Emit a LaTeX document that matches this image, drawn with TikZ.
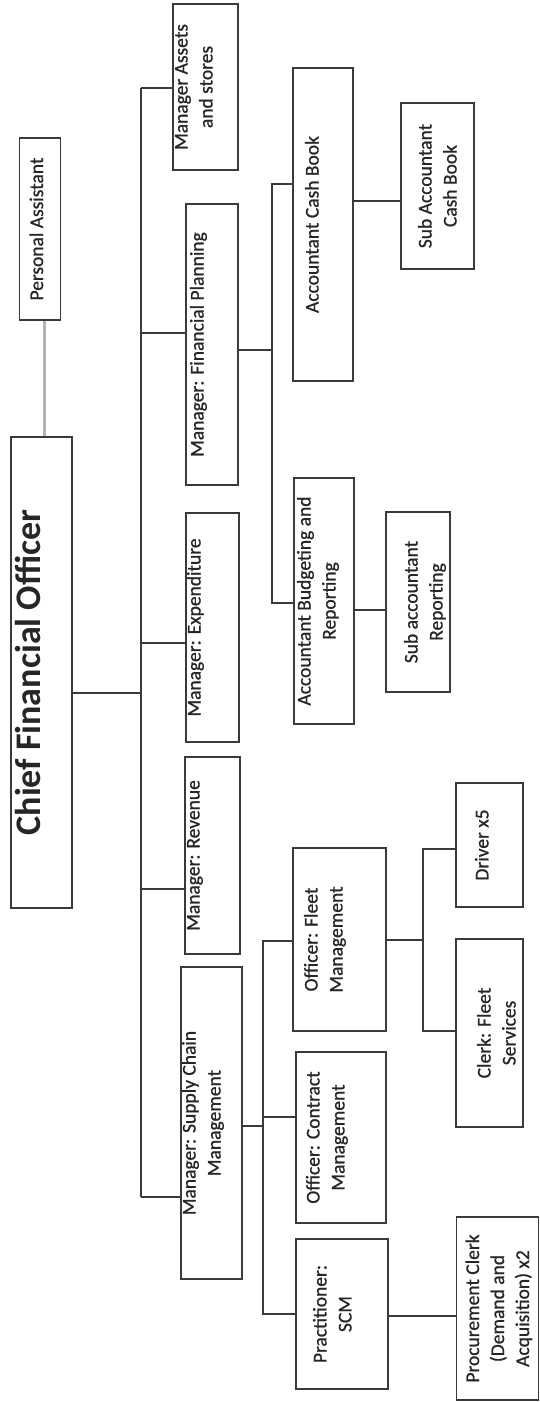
\documentclass[tikz,border=0pt]{standalone}
\usepackage{fontspec}
\setmainfont{Carlito}
\newfontfamily\scanfont{Carlito}[FakeBold=0.9]
\definecolor{linegray}{HTML}{3A3A3A}
\definecolor{pagray}{HTML}{B4B4B4}
\definecolor{inkgray}{HTML}{262626}
% Text im Kasten: Laenge, Dicke, Abstand oben, Inhalt
\newcommand{\cardtext}[4]{\parbox[c][#2pt][t]{#1pt}{\centering\vspace*{#3pt}#4}}
\tikzset{
	orgbox/.style={draw=linegray, line width=1.6pt, rotate=90, inner sep=0pt,
		text=inkgray, font=\scanfont\fontsize{19.5}{25}\selectfont},
	link/.style={draw=linegray, line width=1.5pt},
	palink/.style={draw=pagray, line width=3pt}
}
\begin{document}
\begin{tikzpicture}[x=1pt,y=-1pt]
		\useasboundingbox (0,0) rectangle (540,1402);
		\clip (0,0) rectangle (540,1402);
		% Leitung
		\node[orgbox] (cfo) at (41.5,672.5) {\cardtext{471}{61}{4}{\rmfamily\fontsize{36}{40}\selectfont\bfseries Chief Financial Officer}};
		\node[orgbox] (pa) at (40,229) {\cardtext{182}{41}{10}{Personal Assistant}};
		% Manager
		\node[orgbox] (ma) at (205.5,87) {\cardtext{166}{65}{2}{Manager Assets\\and stores}};
		\node[orgbox] (mfp) at (212,344.5) {\cardtext{281}{52}{4}{Manager: Financial Planning}};
		\node[orgbox] (me) at (212.5,627.5) {\cardtext{229}{53}{1}{Manager: Expenditure}};
		\node[orgbox] (mr) at (212.5,855.5) {\cardtext{197}{55}{2}{Manager: Revenue}};
		\node[orgbox] (mscm) at (211.5,1123) {\cardtext{312}{61}{1}{Manager: Supply Chain\\Management}};
		% Finanzplanung
		\node[orgbox] (acb) at (323,224.5) {\cardtext{313}{60}{12}{Accountant Cash Book}};
		\node[orgbox] (sacb) at (437.5,186) {\cardtext{166}{73}{17}{Sub Accountant\\Cash Book}};
		\node[orgbox] (abr) at (324,601) {\cardtext{246}{60}{3}{Accountant Budgeting and\\Reporting}};
		\node[orgbox] (sar) at (418,602) {\cardtext{180}{64}{18}{Sub accountant\\Reporting}};
		% Supply Chain
		\node[orgbox] (ofm) at (339.5,939.5) {\cardtext{183}{93}{11}{Officer: Fleet\\Management}};
		\node[orgbox] (drv) at (489.5,845) {\cardtext{124}{67}{19}{Driver x5}};
		\node[orgbox] (cfs) at (489.5,1033) {\cardtext{188}{67}{21}{Clerk: Fleet\\Services}};
		\node[orgbox] (ocm) at (341,1137.5) {\cardtext{171}{90}{10}{Officer: Contract\\Management}};
		\node[orgbox] (pscm) at (342,1314) {\cardtext{150}{92}{17}{Practitioner:\\SCM}};
		\node[orgbox] (pc) at (497.5,1308.5) {\cardtext{183}{82}{9}{Procurement Clerk\\(Demand and\\Acquisition) x2}};
		% Verbindungen
		\draw[palink] ([xshift=4pt]pa.west) -- ([xshift=4pt]pa.west |- cfo.east);
		\coordinate (j-ma) at (141,88);
		\coordinate (j-mfp) at (141,333);
		\coordinate (j-me) at (141,643);
		\coordinate (j-cfo) at (141,693);
		\coordinate (j-mr) at (141,889);
		\coordinate (j-mscm) at (141,1197);
		\draw[link] (j-ma) -- (j-mscm);
		\draw[link] (j-cfo) -- (j-cfo -| cfo.south);
		\foreach \mgr in {ma,mfp,me,mr,mscm}
			\draw[link] (j-\mgr) -- (j-\mgr -| \mgr.north);
		% Finanzplanung
		\coordinate (j-fp) at (272,350);
		\coordinate (j-acb) at (272,184);
		\coordinate (j-abr) at (272,603);
		\draw[link] (j-fp -| mfp.south) -- (j-fp);
		\draw[link] (j-acb -| acb.north) -- (j-acb) -- (j-abr) -- (j-abr -| abr.north);
		\coordinate (j-sacb) at (380,201);
		\coordinate (j-sar) at (370,610);
		\draw[link] (j-sacb -| acb.south) -- (j-sacb -| sacb.north);
		\draw[link] (j-sar -| abr.south) -- (j-sar -| sar.north);
		% Supply Chain
		\coordinate (j-scm) at (263,1126);
		\coordinate (j-ofm) at (263,941);
		\coordinate (j-ocm) at (263,1117);
		\coordinate (j-pscm) at (263,1314);
		\draw[link] (j-scm -| mscm.south) -- (j-scm);
		\draw[link] (j-ofm -| ofm.north) -- (j-ofm) -- (j-pscm) -- (j-pscm -| pscm.north);
		\draw[link] (j-ocm) -- (j-ocm -| ocm.north);
		\coordinate (j-fl) at (423,940);
		\coordinate (j-drv) at (423,849);
		\coordinate (j-cfs) at (423,1031);
		\draw[link] (j-fl -| ofm.south) -- (j-fl);
		\draw[link] (j-drv -| drv.north) -- (j-drv) -- (j-cfs) -- (j-cfs -| cfs.north);
		\coordinate (j-pc) at (420,1316);
		\draw[link] (j-pc -| pscm.south) -- (j-pc -| pc.north);
\end{tikzpicture}
\end{document}
